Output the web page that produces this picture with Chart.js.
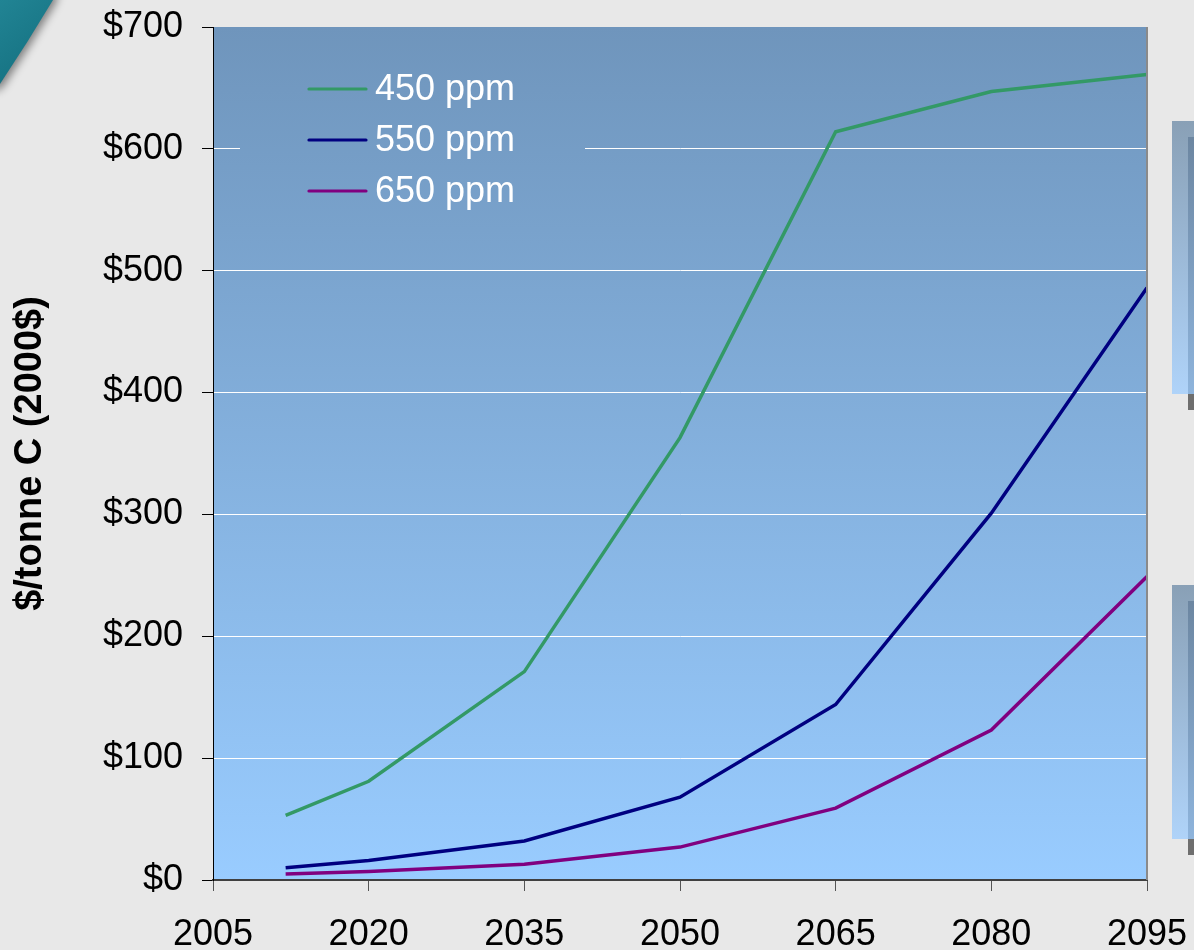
<!DOCTYPE html>
<html>
<head>
<meta charset="utf-8">
<title>Carbon price paths</title>
<script src="https://cdn.jsdelivr.net/npm/chart.js@4/dist/chart.umd.min.js"></script>
<style>
  html, body { margin: 0; padding: 0; background: #e8e8e8; }
  #wrap { position: relative; width: 1194px; height: 950px; }
  canvas { display: block; }
</style>
</head>
<body>
<div id="wrap"><canvas id="c" width="1194" height="950"></canvas></div>
<script>
// Carbon price paths under three stabilisation targets
const years   = [2012, 2020, 2035, 2050, 2065, 2080, 2095];
const ppm450  = [53, 81, 171, 363, 614, 647, 661];
const ppm550  = [10, 16, 32, 68, 144, 301, 486];
const ppm650  = [5, 7, 13, 27, 59, 123, 249];
const seriesNames  = ['450 ppm', '550 ppm', '650 ppm'];
const seriesColors = ['#339966', '#000080', '#800080'];
const yTitle = '$/tonne C (2000$)';

const FONT = '"Liberation Sans", Arial, sans-serif';

function plotGradient(ctx, area) {
  const g = ctx.createLinearGradient(0, area.top, 0, area.bottom);
  g.addColorStop(0, '#6f95bc');
  g.addColorStop(1, '#99ccff');
  return g;
}

// Slide decorations and plot-area fill, drawn under the chart
const backdrop = {
  id: 'backdrop',
  beforeDraw(chart) {
    const ctx = chart.ctx, a = chart.chartArea;
    ctx.save();
    ctx.fillStyle = '#e8e8e8';
    ctx.fillRect(0, 0, chart.width, chart.height);

    // teal corner
    ctx.save();
    ctx.shadowColor = 'rgba(0,0,0,0.45)';
    ctx.shadowBlur = 8;
    ctx.shadowOffsetX = 3;
    ctx.shadowOffsetY = 3;
    const tg = ctx.createLinearGradient(0, 0, 50, 60);
    tg.addColorStop(0, '#218494');
    tg.addColorStop(1, '#167282');
    ctx.fillStyle = tg;
    ctx.beginPath();
    ctx.moveTo(-10, -10);
    ctx.lineTo(56, -10);
    ctx.lineTo(53, 0);
    ctx.quadraticCurveTo(28, 42, 0, 84);
    ctx.lineTo(-10, 90);
    ctx.closePath();
    ctx.fill();
    ctx.restore();

    // side panels on the right
    [[121, 394, 137], [585, 839, 601]].forEach(([t, b, it]) => {
      const og = ctx.createLinearGradient(0, t, 0, b);
      og.addColorStop(0, '#89a0b6');
      og.addColorStop(1, '#afd3f9');
      ctx.fillStyle = og;
      ctx.fillRect(1172, t, 30, b - t);
      const ig = ctx.createLinearGradient(0, it, 0, b);
      ig.addColorStop(0, '#6c86a1');
      ig.addColorStop(1, '#8eb4dc');
      ctx.fillStyle = ig;
      ctx.fillRect(1188, it, 10, b - it);
      ctx.fillStyle = '#6e6e6e';
      ctx.fillRect(1188, b, 10, 16);
    });

    ctx.fillStyle = plotGradient(ctx, a);
    ctx.fillRect(a.left, a.top, a.right - a.left, a.bottom - a.top);
    ctx.restore();
  }
};

// Legend box sitting inside the plot area
const insideLegend = {
  id: 'insideLegend',
  beforeDatasetsDraw(chart) {
    const ctx = chart.ctx, a = chart.chartArea;
    ctx.save();
    ctx.fillStyle = plotGradient(ctx, a);
    ctx.fillRect(240, 62, 345, 156);
    ctx.font = '36px ' + FONT;
    ctx.textBaseline = 'middle';
    ctx.textAlign = 'left';
    chart.data.datasets.forEach((ds, i) => {
      const y = 89 + i * 51;
      ctx.strokeStyle = ds.borderColor;
      ctx.lineWidth = 3.2;
      ctx.lineCap = 'round';
      ctx.beginPath();
      ctx.moveTo(309, y);
      ctx.lineTo(366, y);
      ctx.stroke();
      ctx.fillStyle = '#ffffff';
      ctx.fillText(ds.label, 375, y + 1);
    });
    ctx.restore();
  },
  afterDraw(chart) {
    const ctx = chart.ctx, a = chart.chartArea;
    ctx.save();
    ctx.strokeStyle = '#8a8a8a';
    ctx.lineWidth = 2;
    ctx.beginPath();
    ctx.moveTo(a.right, a.top);
    ctx.lineTo(a.right, a.bottom);
    ctx.stroke();
    ctx.restore();
  }
};

const seriesValues = [ppm450, ppm550, ppm650];
const datasets = seriesValues.map((vals, i) => ({
  label: seriesNames[i],
  data: years.map((yr, j) => ({ x: yr, y: vals[j] })),
  borderColor: seriesColors[i],
  backgroundColor: seriesColors[i],
  borderWidth: 3.5,
  pointRadius: 0,
  tension: 0,
  fill: false
}));

new Chart(document.getElementById('c'), {
  type: 'line',
  data: { datasets },
  plugins: [backdrop, insideLegend],
  options: {
    responsive: false,
    animation: false,
    layout: { padding: { left: 0, top: 27, right: 47, bottom: 0 } },
    plugins: { legend: { display: false }, tooltip: { enabled: false } },
    scales: {
      x: {
        type: 'linear',
        min: 2005,
        max: 2095,
        afterFit(s) { s.height = 70; s.paddingLeft = 0; s.paddingRight = 0; },
        ticks: {
          stepSize: 15,
          color: '#000',
          padding: 22,
          maxRotation: 0,
          font: { family: FONT, size: 36 },
          callback: v => String(v)
        },
        grid: { drawOnChartArea: false, tickLength: 11, tickColor: '#555', tickWidth: 1 },
        border: { color: '#404040', width: 2 }
      },
      y: {
        min: 0,
        max: 700,
        afterFit(s) { s.width = 213; s.paddingTop = 0; s.paddingBottom = 0; },
        ticks: {
          stepSize: 100,
          color: '#000',
          padding: 19,
          font: { family: FONT, size: 36 },
          callback: v => '$' + v
        },
        grid: {
          color: c => (c.tick && c.tick.value > 0 && c.tick.value < 700) ? '#ffffff' : 'rgba(0,0,0,0)',
          lineWidth: 1,
          tickLength: 11,
          tickColor: '#000'
        },
        border: { color: '#000', width: 1 },
        title: {
          display: true,
          text: yTitle,
          color: '#000',
          font: { family: FONT, size: 38, weight: 'bold' },
          padding: { top: 8, bottom: 0 }
        }
      }
    }
  }
});
</script>
</body>
</html>
